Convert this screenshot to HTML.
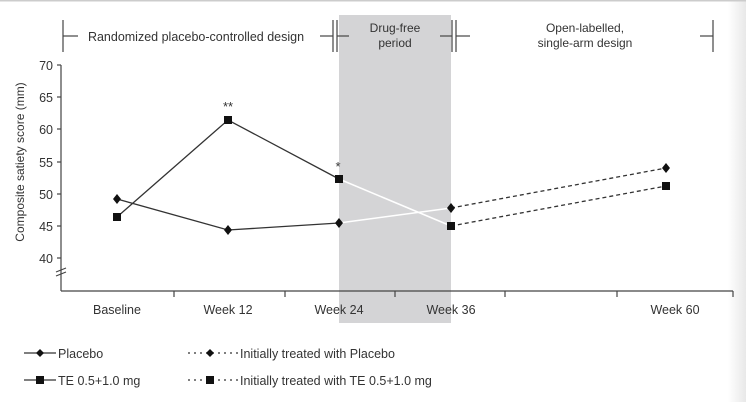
<!DOCTYPE html><html><head><style>body{margin:0;background:#fff}svg{display:block}text{font-family:"Liberation Sans",sans-serif;fill:#333}</style></head><body>
<svg width="746" height="402" viewBox="0 0 746 402">
<defs><linearGradient id="g" x1="0" x2="1"><stop offset="0" stop-color="#fff"/><stop offset="1" stop-color="#e8e8e8"/></linearGradient></defs>
<rect x="728" y="0" width="18" height="402" fill="url(#g)"/>
<rect x="0" y="0" width="746" height="1.5" fill="#ccc"/>
<rect x="339" y="15" width="112" height="308" fill="#d4d4d6"/>
<g stroke="#444" stroke-width="1.2" fill="none">
<line x1="63" y1="20" x2="63" y2="52"/><line x1="63" y1="36" x2="78" y2="36"/>
<line x1="320" y1="36" x2="333" y2="36"/><line x1="333" y1="20" x2="333" y2="52"/><line x1="337" y1="20" x2="337" y2="52"/><line x1="337" y1="36" x2="349" y2="36"/>
<line x1="440" y1="36" x2="452" y2="36"/><line x1="452" y1="20" x2="452" y2="52"/><line x1="456" y1="20" x2="456" y2="52"/><line x1="456" y1="36" x2="470" y2="36"/>
<line x1="700" y1="36" x2="713" y2="36"/><line x1="713" y1="20" x2="713" y2="52"/>
<line x1="61" y1="65" x2="61" y2="291"/><line x1="61" y1="291" x2="733" y2="291"/>
<line x1="57" y1="65" x2="61" y2="65"/><line x1="57" y1="97" x2="61" y2="97"/><line x1="57" y1="129" x2="61" y2="129"/><line x1="57" y1="162" x2="61" y2="162"/><line x1="57" y1="194" x2="61" y2="194"/><line x1="57" y1="226" x2="61" y2="226"/><line x1="57" y1="258" x2="61" y2="258"/>
<line x1="174" y1="291" x2="174" y2="297"/><line x1="285" y1="291" x2="285" y2="297"/><line x1="395" y1="291" x2="395" y2="297"/><line x1="505" y1="291" x2="505" y2="297"/><line x1="617" y1="291" x2="617" y2="297"/><line x1="733" y1="291" x2="733" y2="297"/>
<line x1="56" y1="272" x2="66" y2="268"/><line x1="56" y1="276" x2="66" y2="272"/>
</g>
<text x="196" y="41" font-size="12.5" text-anchor="middle">Randomized placebo-controlled design</text>
<text x="395" y="32" font-size="12" text-anchor="middle">Drug-free</text><text x="395" y="47" font-size="12" text-anchor="middle">period</text>
<text x="585" y="32" font-size="12" text-anchor="middle">Open-labelled,</text><text x="585" y="47" font-size="12" text-anchor="middle">single-arm design</text>
<g font-size="12.5" text-anchor="end"><text x="53" y="70">70</text><text x="53" y="102">65</text><text x="53" y="134">60</text><text x="53" y="167">55</text><text x="53" y="199">50</text><text x="53" y="231">45</text><text x="53" y="263">40</text></g>
<text transform="translate(24,162) rotate(-90)" font-size="12" text-anchor="middle">Composite satiety score (mm)</text>
<g font-size="12.5" text-anchor="middle"><text x="117" y="314">Baseline</text><text x="228" y="314">Week 12</text><text x="339" y="314">Week 24</text><text x="451" y="314">Week 36</text><text x="675" y="314">Week 60</text></g>
<polyline points="117,199 228,230 339,223" stroke="#333" fill="none" stroke-width="1.3"/>
<polyline points="117,217 228,120 339,179" stroke="#333" fill="none" stroke-width="1.3"/>
<line x1="339" y1="223" x2="451" y2="208" stroke="#fff" stroke-width="1.5"/>
<line x1="339" y1="179" x2="451" y2="226" stroke="#fff" stroke-width="1.5"/>
<line x1="451" y1="208" x2="666" y2="168" stroke="#333" stroke-width="1.3" stroke-dasharray="4,3"/>
<line x1="451" y1="226" x2="666" y2="186" stroke="#333" stroke-width="1.3" stroke-dasharray="4,3"/>
<g fill="#111">
<path d="M117,194l4,5-4,5-4-5z"/><path d="M228,225l4,5-4,5-4-5z"/><path d="M339,218l4,5-4,5-4-5z"/><path d="M451,203l4,5-4,5-4-5z"/><path d="M666,163l4,5-4,5-4-5z"/>
<rect x="113" y="213" width="8" height="8"/><rect x="224" y="116" width="8" height="8"/><rect x="335" y="175" width="8" height="8"/><rect x="447" y="222" width="8" height="8"/><rect x="662" y="182" width="8" height="8"/>
</g>
<text x="228" y="111" font-size="13" text-anchor="middle">**</text><text x="338" y="171" font-size="13" text-anchor="middle">*</text>
<g stroke="#333" stroke-width="1.3"><line x1="24" y1="353" x2="56" y2="353"/><line x1="24" y1="380" x2="56" y2="380"/>
<line x1="188" y1="353" x2="238" y2="353" stroke-dasharray="2,4"/><line x1="188" y1="380" x2="238" y2="380" stroke-dasharray="2,4"/></g>
<g fill="#111"><path d="M40,349l4,4-4,4-4-4z"/><rect x="36" y="376" width="8" height="8"/><path d="M210,349l4,4-4,4-4-4z"/><rect x="206" y="376" width="8" height="8"/></g>
<g font-size="12.5"><text x="58" y="358">Placebo</text><text x="58" y="385">TE 0.5+1.0 mg</text><text x="240" y="358">Initially treated with Placebo</text><text x="240" y="385">Initially treated with TE 0.5+1.0 mg</text></g>
</svg></body></html>
